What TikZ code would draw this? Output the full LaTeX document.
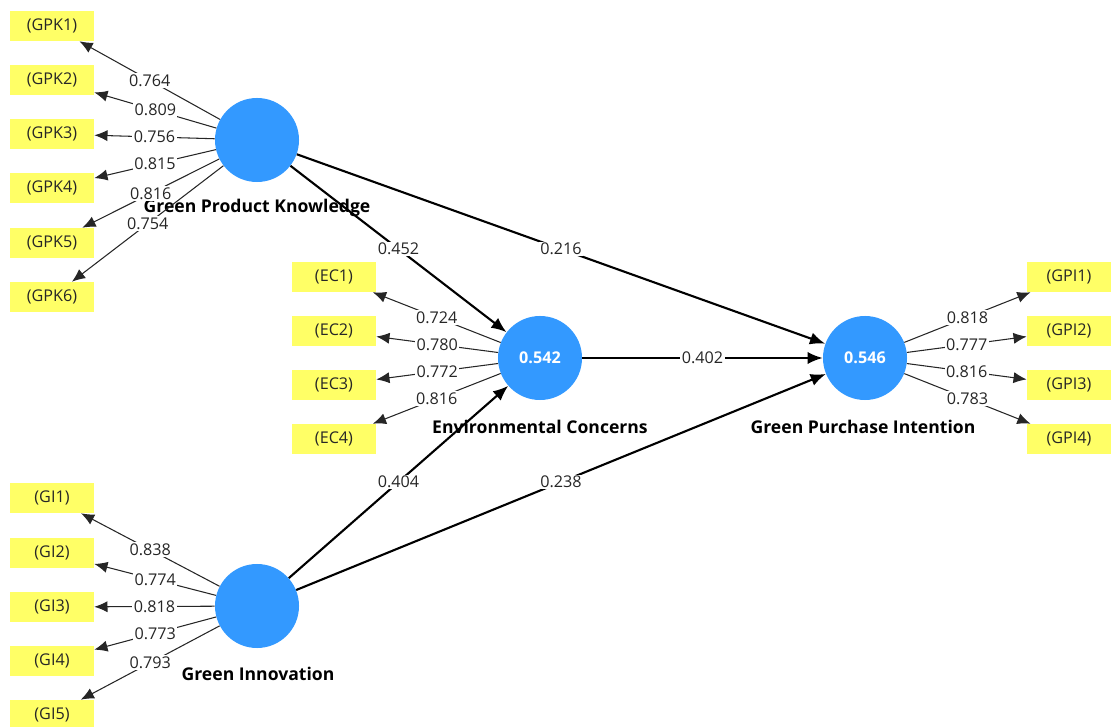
\documentclass[tikz,border=0pt]{standalone}
\usepackage{fontspec}
\setmainfont{Open Sans}
\usetikzlibrary{arrows.meta}
\definecolor{lvblue}{RGB}{51,153,255}
\definecolor{mvyellow}{RGB}{255,255,102}

\begin{document}
\begin{tikzpicture}[x=0.025cm, y=-0.025cm,
      lv/.style={circle, fill=lvblue, minimum size=2.1cm, inner sep=0pt,
                 text=white, font=\fontsize{11.5}{13}\selectfont\bfseries},
      mv/.style={fill=mvyellow, minimum width=2.1cm, minimum height=0.75cm,
                 inner sep=0pt, text=black!85, font=\fontsize{11.5}{13}\selectfont},
      lvname/.style={font=\fontsize{12.5}{14}\selectfont\bfseries},
      loadarr/.style={-{Latex[length=3.3mm,width=2.8mm]}, line width=0.75pt, draw=black!85},
      structarr/.style={-{Latex[length=3.8mm,width=3.1mm]}, line width=1.5pt},
      coef/.style={fill=white, inner sep=1pt, text=black!85,
                   font=\fontsize{11.5}{13}\selectfont}]

    \useasboundingbox (0,0) rectangle (1112,727);

    % latent variables
    \node[lv] (gpk) at (257,140) {};
    \node[lv] (ec)  at (540,358) {0.542};
    \node[lv] (gpi) at (865,358) {0.546};
    \node[lv] (gi)  at (257,606) {};

    \node[lvname] (gpkname) at (257,208) {Green Product Knowledge};
    \node[lvname] (ecname)  at (540,427) {Environmental Concerns};
    \node[lvname] (gpiname) at (863,427) {Green Purchase Intention};
    \node[lvname] (giname)  at (258,674) {Green Innovation};

    % indicators
    \node[mv] (gpk1) at (52,26)  {(GPK1)};
    \node[mv] (gpk2) at (52,80)  {(GPK2)};
    \node[mv] (gpk3) at (52,134) {(GPK3)};
    \node[mv] (gpk4) at (52,188) {(GPK4)};
    \node[mv] (gpk5) at (52,243) {(GPK5)};
    \node[mv] (gpk6) at (52,297) {(GPK6)};

    \node[mv] (ec1) at (334,277) {(EC1)};
    \node[mv] (ec2) at (334,331) {(EC2)};
    \node[mv] (ec3) at (334,385) {(EC3)};
    \node[mv] (ec4) at (334,439) {(EC4)};

    \node[mv] (gpi1) at (1069,277) {(GPI1)};
    \node[mv] (gpi2) at (1069,331) {(GPI2)};
    \node[mv] (gpi3) at (1069,385) {(GPI3)};
    \node[mv] (gpi4) at (1069,439) {(GPI4)};

    \node[mv] (gi1) at (52,498) {(GI1)};
    \node[mv] (gi2) at (52,553) {(GI2)};
    \node[mv] (gi3) at (52,607) {(GI3)};
    \node[mv] (gi4) at (52,661) {(GI4)};
    \node[mv] (gi5) at (52,715) {(GI5)};

    % outer loadings
    \draw[loadarr] (gpk) -- node[coef] {0.764} (gpk1);
    \draw[loadarr] (gpk) -- node[coef] {0.809} (gpk2);
    \draw[loadarr] (gpk) -- node[coef] {0.756} (gpk3);
    \draw[loadarr] (gpk) -- node[coef] {0.815} (gpk4);
    \draw[loadarr] (gpk) -- node[coef] {0.816} (gpk5);
    \draw[loadarr] (gpk) -- node[coef] {0.754} (gpk6);

    \draw[loadarr] (ec) -- node[coef] {0.724} (ec1);
    \draw[loadarr] (ec) -- node[coef] {0.780} (ec2);
    \draw[loadarr] (ec) -- node[coef] {0.772} (ec3);
    \draw[loadarr] (ec) -- node[coef] {0.816} (ec4);

    \draw[loadarr] (gpi) -- node[coef] {0.818} (gpi1);
    \draw[loadarr] (gpi) -- node[coef] {0.777} (gpi2);
    \draw[loadarr] (gpi) -- node[coef] {0.816} (gpi3);
    \draw[loadarr] (gpi) -- node[coef] {0.783} (gpi4);

    \draw[loadarr] (gi) -- node[coef] {0.838} (gi1);
    \draw[loadarr] (gi) -- node[coef] {0.774} (gi2);
    \draw[loadarr] (gi) -- node[coef] {0.818} (gi3);
    \draw[loadarr] (gi) -- node[coef] {0.773} (gi4);
    \draw[loadarr] (gi) -- node[coef] {0.793} (gi5);

    % path coefficients
    \draw[structarr] (gpk) -- node[coef] {0.452} (ec);
    \draw[structarr] (gpk) -- node[coef] {0.216} (gpi);
    \draw[structarr] (ec)  -- node[coef] {0.402} (gpi);
    \draw[structarr] (gi)  -- node[coef] {0.404} (ec);
    \draw[structarr] (gi)  -- node[coef] {0.238} (gpi);
  \end{tikzpicture}
\end{document}
